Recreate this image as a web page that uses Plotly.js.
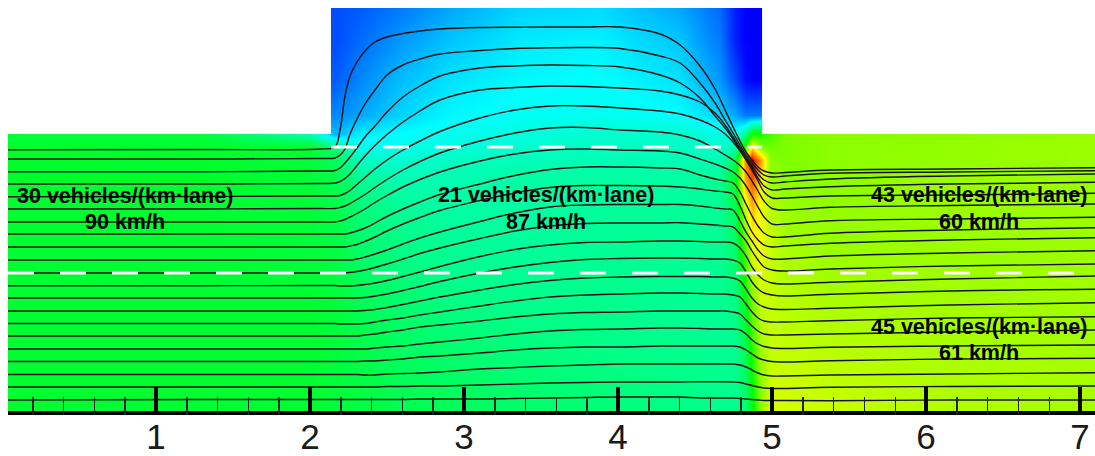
<!DOCTYPE html>
<html>
<head>
<meta charset="utf-8">
<script src="https://cdn.plot.ly/plotly-3.0.1.min.js"></script>
<style>html,body{margin:0;padding:0;background:#fff}#g{width:1095px;height:456px}</style>
</head>
<body>
<div id="g"></div>
<script>
// distance along the road (km) at which each streamline was read
const streamKm = [0.039,1.286,2.065,2.162,2.195,2.227,2.260,2.305,2.357,2.422,2.5,2.604,2.714,2.844,3.104,3.331,3.558,3.786,4.013,4.273,4.403,4.532,4.630,4.695,4.747,4.792,4.831,4.870,4.909,4.948,5.0,5.084,5.377,6.156,7.097];
// lateral position of each streamline (0 = top of the ramp side, larger = towards the road edge)
const line01 = [149.7,149.5,149,147,130,96,76,62,51,42,37,33.5,31,29,27.5,27.2,27,27,27,34,45,66,89,110,127,141,152,160,167,171,173,172.5,170,169,167.7];
const line02 = [159,159,158.5,158,155,149,134,119,104,90,75,65,59,54,50.5,48.5,47.7,47.5,48.5,56,63,83,103,120,133,145,155,163,170,175,177,176,173.3,172,170.7];
const line03 = [171.7,171.7,171,170.5,168,163,157,148,137,126,112,97,86,76,68,66,65,65.5,67,75,83,98,116,128,139,149,158,166,174,180,183,182,179,176,174];
const line04 = [184,184,183.5,183,181.5,178.5,174,165.5,156,145.5,134.5,122,111,100,90,87.5,86,86.5,88,91,95,102,113,125,137,148,158,168,178,186,190,189,186.7,184,182.3];
const line05 = [196.7,196.5,196,196,195.5,193.5,190.5,184.5,177.5,169,160,150,141,131.5,118,110,106,106,108,111,114,120,127,134,142,151,160,170,181,192,198,198,196,195,193.3];
const line06 = [209,209,208.5,208.5,207.5,206,203.5,199.5,194.5,187.5,179.5,170,161.5,153,141,133,128,127.5,130,132,135,141,149,155,160,165.5,172,181,191,201,208.5,210,207.3,205.5,204];
const line07 = [222,222,222,222,221,219.5,217,213.5,209,202.5,195.5,187,179.5,172,161,154,150,149,150,151,153,159,164,168,172,178,186,196,207,217,224,224,220.7,219,217.3];
const line08 = [234,234,234,234,234,234,233,231,228,223,216.5,209,202,194.5,184,175.5,169.5,167,167,168,169,175,179,181,183,192,204,216,226,233,237,237,233.3,230,227.7];
const line09 = [247,247,247,247,247,247,246,244.5,241.5,237,231,224,217.5,210.5,200.5,193,187.5,185.5,185.5,186,187,189,191,192,194,206,220,232,240,245,247,246,243.3,240,237.7];
const line10 = [260,260,260,260,260,260,260,259,257,254,250,244,238,232,221.5,213,207,205,204.5,204.5,204.5,206,208,209,210,221,232,241,250,256,259,259,256,253,250.7];
const line11 = [273,273,273,273,273,273,272.5,271.5,270,267.5,264,259,253.5,248,238.5,231,226,223.5,223,223,222.7,224,225,226,227,234,241,251,260,267,270,271,269,266,264];
const line12 = [285.7,285.7,285.5,285.5,286,286,286,285.5,284.5,283,280.5,276.5,272,266.5,256.5,249.5,245,242.5,242,241,241,241.5,242,242,243,248,256,267,275,280,283,284,282.3,279,276];
const line13 = [298,298,298,298,298,298,298,298,297.5,296,294,290.5,286.5,281.5,273,267,262.5,259.5,258.5,258,258,258.5,259,259,260,263,272,282,289,293,295,296,294.3,291,289.3];
const line14 = [311,311,311,311,311,311,311,311,310.5,309.5,307.5,304.5,301,297,290,284.5,280.5,278,277,276.5,276.5,276.5,277,277,278,281,289,298,304,307,309,309.5,308.3,305,302.7];
const line15 = [323.5,323.5,323.5,323.5,324,324,324,324,323.5,322,320,318,315,312,306,301,297,295,294,293,293,293.5,294,294,295,297,304,312,318,321,322,322,320.7,318,316.7];
const line16 = [336,336,336,336,336,336,336,336,335,334,332,330,327,325,321,317,314,312.5,312,311,311,311,311,311,312,314,320,326,331,334,335,335,334,332,330];
const line17 = [349,349,349,349,349,349,349,349,349,348,347,346,344,342,338,334,331,329.5,329,328,328,328.5,329,329,329,330,334,340,344,346.5,348,348.5,347.3,346,345];
const line18 = [361.5,361.5,361.5,361.5,361.5,361.5,361.5,361.5,361,361,360,359,357,356,353,350,348,347,347,346,346,346,346,346,346,347,350,354,358,360,361.5,362,360.7,359,358.3];
const line19 = [374.5,374.5,374.5,374.5,374.5,374.5,374.5,374.5,375,375,374,373.5,373,372,369,367.5,366,365,364,364,364,364,364,364,364,365,367,370,373,375,376,376,375,374,372.7];
const line20 = [387,387,387,387,387,387,387,387,387,387,386.5,386.5,386,386,385,384,383,382.5,382,382,382,381.7,381.7,381.7,382,382.5,384,385.5,387,388,388.5,388.5,387.3,386.5,386];
const line21 = [400,399.5,399.5,399.5,399.5,399.5,399.5,399.5,399.5,399.5,399.5,399.5,399,399,399,398.5,398,397.5,397,397,397,398,398,398,398,398.5,399,399.5,400,400.5,400.5,400.5,400.7,400,400];
const streamlines = [line01,line02,line03,line04,line05,line06,line07,line08,line09,line10,line11,line12,line13,line14,line15,line16,line17,line18,line19,line20,line21];

// density field, vehicles/(km·lane)
const densityKm = [0.039,1.286,2,2.162,2.325,2.584,2.909,3.364,3.883,4.403,4.662,4.760,4.825,4.870,4.922,4.987,5.084,5.377,6.156,7.097];
const densityLat = [8,40,80,115,134,147,160,180,210,250,300,350,412];
const den008 = [30,30,5,5,6,8,11,14,14.5,11,7,2,0,0,0,0,43,43,43,43];
const den040 = [30,30,5,5,7,10,13,15.5,16,13,8,2,0,0,0,0,43,43,43,43];
const den080 = [30,30,6,6,9,12.5,15,16.5,17,15,10,5,1,0,0,0,43,43,43,43];
const den115 = [30,30,9,9,11,14,16.5,17.5,18,17,14,11,8,8,8,8,43,43,43,43];
const den134 = [30,30,22,12,16,17,18,19,20,20,19,18,24,34,36,38,42,43,43,44];
const den147 = [31,31,31,26,18,18,19,20,21,21,20,22,36,52,42,41,42,43,43.5,44];
const den160 = [31,31,30,28,21,20,21,21.5,22,22,22,28,58,67.5,58,43,42,43,43.5,44];
const den180 = [31,31,30,29,24,22,22,23,23,23,24,31,56,62,52,44,43,43,44,44];
const den210 = [30.5,30.5,30,29,26,24,23,23,23.5,23.5,24,28,47,55,50,46,44,43.5,44,44];
const den250 = [30.5,30.5,30,29.5,27,25,24,23.5,24,24,24,27,39,49,50,47,45,44,44,44];
const den300 = [30.5,30.5,30.5,30,28,26.5,25,24.5,24.5,24,24,25,32,42,47,47,46,45,44.5,44.5];
const den350 = [30.5,30.5,30.5,30,29,27.5,26.5,25.5,25,24.5,24,24,28,36,44,46.5,46.5,46,45,44.5];
const den412 = [30.5,30.5,30.5,30,29.5,28.5,28,27,26,25,24.5,24.5,26,32,42,48,48,47,45.5,45];
const densityZ = [den008,den040,den080,den115,den134,den147,den160,den180,den210,den250,den300,den350,den412];

// road geometry
const roadStartKm = 0.039, roadEndKm = 7.097;
const rampStartKm = 2.136, rampEndKm = 4.935;
const rampTopLat = 8, roadTopLat = 134, rampLineLat = 147, laneLineLat = 273, roadEdgeLat = 413;
const laneLineEndKm = 6.97;

const majorTicks = [1,2,3,4,5,6,7];
const majorLabels = ['1','2','3','4','5','6','7'];
const minorTicks = [0.2,0.4,0.6,0.8,1.2,1.4,1.6,1.8,2.2,2.4,2.6,2.8,3.2,3.4,3.6,3.8,4.2,4.4,4.6,4.8,5.2,5.4,5.6,5.8,6.2,6.4,6.6,6.8];

const labelTexts = ['30 vehicles/(km·lane)','90 km/h','21 vehicles/(km·lane)','87 km/h','43 vehicles/(km·lane)','60 km/h','45 vehicles/(km·lane)','61 km/h'];
const labelKm = [0.799,0.799,3.532,3.532,6.344,6.344,6.344,6.344];
const labelLat = [196,222,195,222,195,222,327,353];

const traces = [{
  type:'heatmap', x:densityKm, y:densityLat, z:densityZ, zmin:0, zmax:67.5, zsmooth:'best', showscale:false, hoverinfo:'skip',
  colorscale:[[0,'rgb(0,0,255)'],[0.25,'rgb(0,255,255)'],[0.5,'rgb(0,255,0)'],[0.75,'rgb(255,255,0)'],[1,'rgb(255,0,0)']]
}];
streamlines.forEach(l=>traces.push({type:'scatter',mode:'lines',x:streamKm,y:l,line:{color:'#141414',width:1.4,shape:'spline',smoothing:1},hoverinfo:'skip'}));
traces.push({type:'scatter',mode:'lines',x:[roadStartKm,laneLineEndKm],y:[laneLineLat,laneLineLat],line:{color:'#fff',width:3,dash:'26px,26px'},hoverinfo:'skip'});
traces.push({type:'scatter',mode:'lines',x:[rampStartKm,rampEndKm],y:[rampLineLat,rampLineLat],line:{color:'#fff',width:3,dash:'26px,26px'},hoverinfo:'skip'});
traces.push({type:'scatter',mode:'lines',x:[roadStartKm,roadEndKm],y:[roadEdgeLat,roadEdgeLat],line:{color:'#000',width:4},hoverinfo:'skip'});

const white = {type:'rect',layer:'above',fillcolor:'#fff',line:{width:0}};
const layout = {
  width:1095,height:456,margin:{l:0,r:0,t:0,b:41},paper_bgcolor:'#fff',plot_bgcolor:'#fff',showlegend:false,
  font:{family:'"Liberation Sans",Arial,sans-serif',color:'#000'},
  xaxis:{range:[-0.013,7.097],tickmode:'array',tickvals:majorTicks,ticktext:majorLabels,ticks:'inside',ticklen:28,tickwidth:4.5,tickcolor:'#000',
    tickfont:{size:35,color:'#1a1a1a'},ticklabelstandoff:-2,showgrid:false,zeroline:false,showline:false,
    minor:{tickmode:'array',tickvals:minorTicks,ticks:'inside',ticklen:18,tickwidth:1.5,tickcolor:'#222',showgrid:false}},
  yaxis:{range:[415,0],visible:false,showgrid:false,zeroline:false},
  shapes:[
    Object.assign({x0:-0.013,x1:rampStartKm,y0:0,y1:roadTopLat},white),
    Object.assign({x0:rampEndKm,x1:7.097,y0:0,y1:roadTopLat},white),
    Object.assign({x0:-0.013,x1:7.097,y0:0,y1:rampTopLat},white),
    Object.assign({x0:-0.013,x1:roadStartKm,y0:0,y1:415},white)
  ],
  annotations:labelTexts.map((t,i)=>({text:'<b>'+t+'</b>',x:labelKm[i],y:labelLat[i],xref:'x',yref:'y',showarrow:false,font:{size:21.5,color:'#000'}}))
};
Plotly.newPlot('g',traces,layout,{displayModeBar:false,staticPlot:true});
</script>
</body>
</html>
